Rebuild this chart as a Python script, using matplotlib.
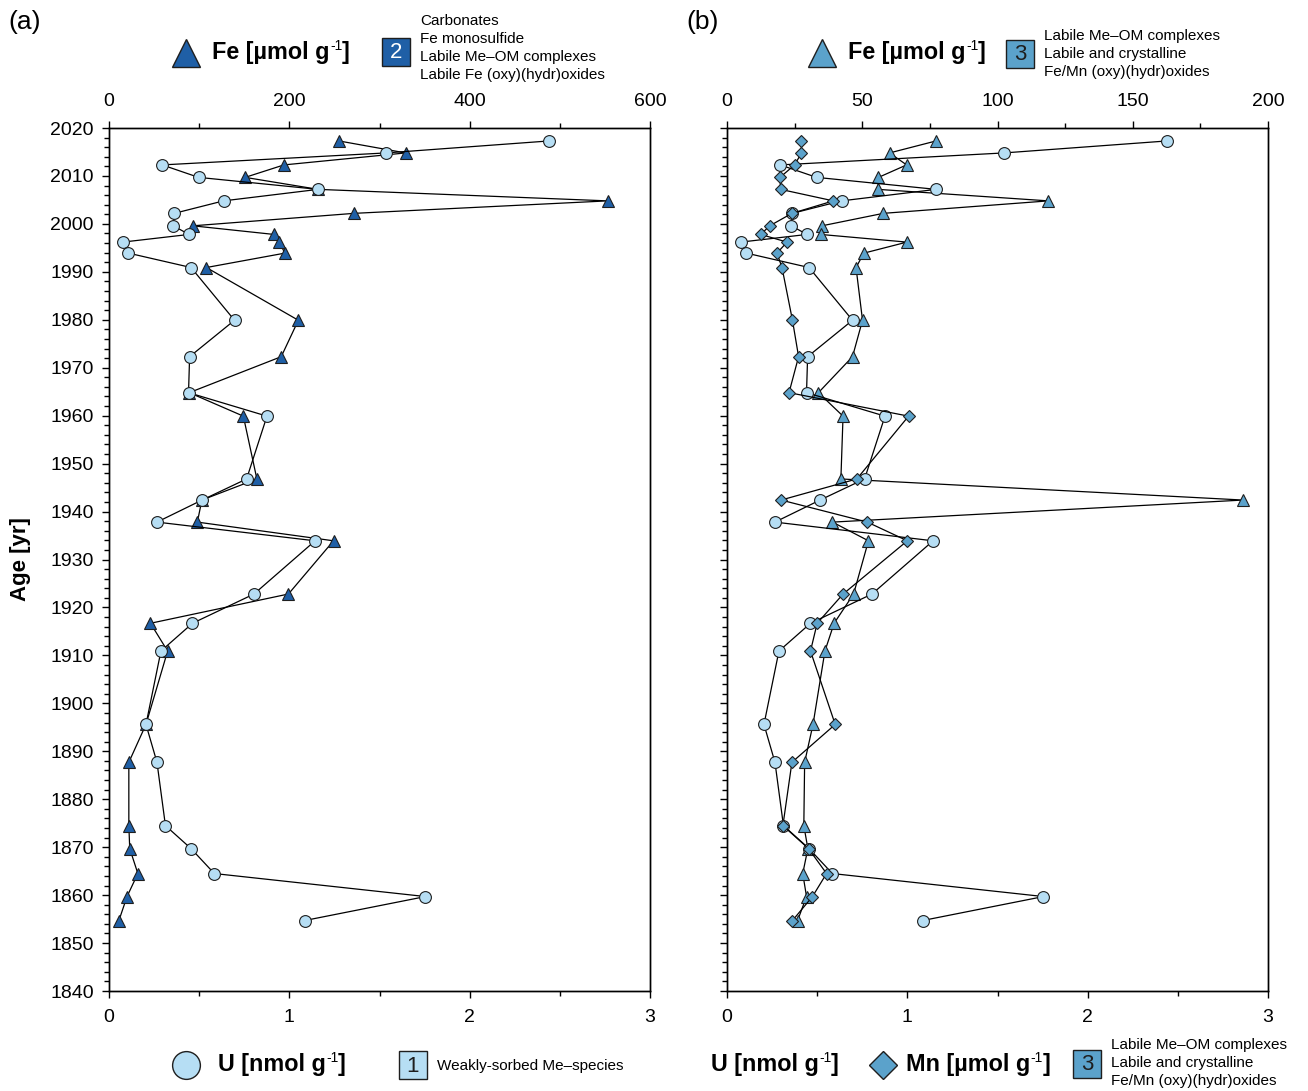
import matplotlib.pyplot as plt
from matplotlib.patches import Rectangle
from matplotlib.ticker import MultipleLocator

plt.rcParams['font.family'] = ['Liberation Sans', 'DejaVu Sans']

# -------------------------------
# data
# -------------------------------
years = [2017.3, 2014.8, 2012.3, 2009.7, 2007.2, 2004.8, 2002.2, 1999.6, 1997.8,
         1996.2, 1993.9, 1990.9, 1979.9, 1972.3, 1964.8, 1959.9, 1946.8, 1942.4,
         1937.8, 1933.9, 1922.8, 1916.7, 1910.9, 1895.6, 1887.7, 1874.5, 1869.7,
         1864.5, 1859.7, 1854.7]

u_nmol = [2.44, 1.536, 0.295, 0.497, 1.16, 0.635, 0.362, 0.356, 0.444,
          0.076, 0.108, 0.455, 0.696, 0.447, 0.441, 0.876, 0.763, 0.516,
          0.266, 1.143, 0.804, 0.463, 0.288, 0.205, 0.266, 0.313, 0.455,
          0.584, 1.755, 1.085]

# fraction 2 Fe (panel a)
fe_f2 = [255, 329, 194, 151, 232, 553, 272, 93, 183,
         189, 195, 108, 210, 191, 89, 149, 164, 103,
         98, 249, 199, 46, 65, 41, 22, 22, 23,
         32, 20, 11]

# fraction 3 Fe (panel b)
fe_f3 = [77.3, 60.1, 66.4, 56.0, 55.8, 118.8, 57.8, 35.1, 34.6,
         66.5, 50.6, 47.7, 50.1, 46.4, 33.8, 42.9, 42.1, 190.8,
         39.0, 52.3, 46.8, 39.6, 36.2, 31.8, 28.7, 28.4, 29.9,
         28.0, 29.4, 26.1]

# fraction 3 Mn (panel b)
mn_f3 = [0.413, 0.413, 0.375, 0.294, 0.297, 0.59, 0.36, 0.237, 0.187,
         0.333, 0.277, 0.305, 0.363, 0.397, 0.344, 1.007, 0.72, 0.30,
         0.778, 1.0, 0.644, 0.50, 0.463, 0.60, 0.36, 0.31, 0.452,
         0.552, 0.474, 0.363]

fe_dark = '#1f5fa6'
fe_mid = '#5ba2cb'
u_light = '#b6def4'
edge = '#1e1e1e'

W, H = 1308, 1091
fig = plt.figure(figsize=(W / 100, H / 100), dpi=100)


def panel(left_px, fe, fe_max, fe_step, fe_color, mn=None, show_ylabels=True):
    ax = fig.add_axes([left_px / W, 1 - 991 / H, 541 / W, 863 / H])
    ax_top = ax.twiny()
    ax.set_zorder(ax_top.get_zorder() + 1)
    ax.patch.set_visible(False)

    ax_top.plot(fe, years, color='k', lw=0.9, marker='^', ms=8.5,
                mfc=fe_color, mec=edge, mew=0.8, clip_on=False)
    ax.plot(u_nmol, years, color='k', lw=0.9, marker='o', ms=8.5,
            mfc=u_light, mec=edge, mew=0.8, clip_on=False)
    if mn is not None:
        ax.plot(mn, years, color='k', lw=0.9, marker='D', ms=6,
                mfc=fe_mid, mec=edge, mew=0.8, clip_on=False)

    ax.set_xlim(0, 3)
    ax.set_ylim(1840, 2020)
    ax_top.set_xlim(0, fe_max)

    ax.xaxis.set_major_locator(MultipleLocator(1))
    ax.xaxis.set_minor_locator(MultipleLocator(0.5))
    ax.yaxis.set_major_locator(MultipleLocator(10))
    ax.yaxis.set_minor_locator(MultipleLocator(2))
    ax_top.xaxis.set_major_locator(MultipleLocator(fe_step))
    ax_top.xaxis.set_minor_locator(MultipleLocator(fe_step / 2))

    ax.tick_params(axis='x', which='both', direction='out', bottom=True,
                   top=False, labelsize=14, pad=8)
    ax.tick_params(axis='y', which='both', direction='out', left=True,
                   right=False, labelsize=14, pad=6, labelleft=show_ylabels)
    ax_top.tick_params(axis='x', which='both', direction='out', top=True,
                       bottom=False, labelsize=14, pad=8)
    for a in (ax, ax_top):
        a.tick_params(which='major', length=5, width=1)
        a.tick_params(which='minor', length=3.5, width=1)
        for s in a.spines.values():
            s.set_linewidth(1.0)
    return ax


ax_a = panel(109, fe_f2, 600, 200, fe_dark)
ax_b = panel(727, fe_f3, 200, 50, fe_mid, mn=mn_f3, show_ylabels=False)
ax_a.set_ylabel('Age [yr]', fontsize=16, fontweight='bold', labelpad=14)

# -------------------------------
# legends, drawn in pixel coordinates
# -------------------------------
ov = fig.add_axes([0, 0, 1, 1])
ov.set_xlim(0, W)
ov.set_ylim(H, 0)
ov.axis('off')
ov.set_zorder(10)


def box(x, y, num, color, txt_color):
    ov.add_patch(Rectangle((x, y), 28, 28, facecolor=color, edgecolor=edge, lw=1))
    ov.text(x + 14, y + 15, num, fontsize=16, color=txt_color,
            ha='center', va='center')


def lines(x, y0, texts, size=11):
    for i, t in enumerate(texts):
        ov.text(x, y0 + 18 * i, t, fontsize=size, ha='left', va='center')


def bold_label(x, y, name):
    # main text bold, small regular "-1" superscript
    t = ov.text(x, y, name + ' g', fontsize=16.8, fontweight='bold',
                ha='left', va='center')
    fig.canvas.draw()
    bb = t.get_window_extent()
    x1 = ov.transData.inverted().transform((bb.x1, bb.y0))[0]
    ov.text(x1 + 0.5, y - 7, '-1', fontsize=10, ha='left', va='center')
    ov.text(x1 + 12, y, ']', fontsize=16.8, fontweight='bold', ha='left', va='center')


ov.text(8, 22, '(a)', fontsize=19, ha='left', va='center')
ov.text(686, 22, '(b)', fontsize=19, ha='left', va='center')

# top (a)
ov.plot(186, 53, marker='^', ms=20, mfc=fe_dark, mec=edge, mew=1)
bold_label(212, 53, 'Fe [µmol')
box(382, 38, '2', fe_dark, 'white')
lines(420, 21, ['Carbonates', 'Fe monosulfide', 'Labile Me\u2013OM complexes',
                'Labile Fe (oxy)(hydr)oxides'])

# top (b)
ov.plot(822, 53, marker='^', ms=20, mfc=fe_mid, mec=edge, mew=1)
bold_label(848, 53, 'Fe [µmol')
box(1006, 40, '3', fe_mid, edge)
lines(1044, 36, ['Labile Me\u2013OM complexes', 'Labile and crystalline',
                 'Fe/Mn (oxy)(hydr)oxides'])

# bottom (a)
ov.plot(186, 1065, marker='o', ms=20, mfc=u_light, mec=edge, mew=1)
bold_label(218, 1065, 'U [nmol')
box(399, 1051, '1', u_light, edge)
lines(437, 1066, ['Weakly-sorbed Me\u2013species'])

# bottom (b)
bold_label(711, 1065, 'U [nmol')
ov.plot(883, 1065, marker='D', ms=14, mfc=fe_mid, mec=edge, mew=1)
bold_label(906, 1065, 'Mn [µmol')
box(1073, 1050, '3', fe_mid, edge)
lines(1111, 1045, ['Labile Me\u2013OM complexes', 'Labile and crystalline',
                   'Fe/Mn (oxy)(hydr)oxides'])

plt.savefig('out.png', dpi=100)
plt.close()
